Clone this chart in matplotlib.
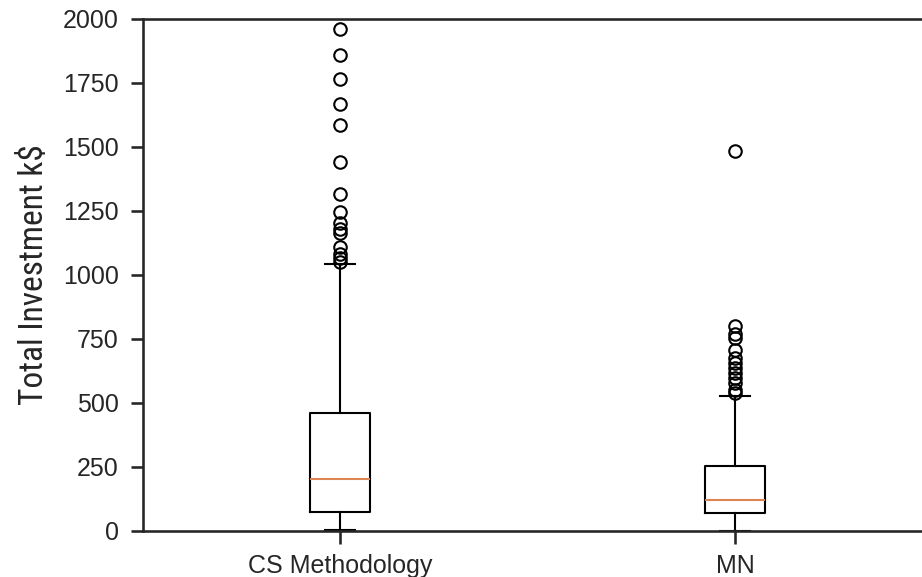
import matplotlib
matplotlib.use("Agg")
import matplotlib.pyplot as plt

categories = ["CS Methodology", "MN"]
q1 = [75, 69]
medians = [203, 121]
q3 = [460, 254]
whisker_low = [4, 1]
whisker_high = [1042, 527]
outliers_cs = [1962, 1858, 1766, 1668, 1585, 1440, 1316, 1245, 1202, 1180, 1163,
               1111, 1082, 1065, 1052]
outliers_mn = [1485, 800, 770, 752, 707, 675, 655, 636, 618, 596, 577, 551, 540]
outliers = [outliers_cs, outliers_mn]
yticks = [0, 250, 500, 750, 1000, 1250, 1500, 1750, 2000]
ylabel = "Total Investment k$"

edge = "#262626"
plt.rcParams["font.family"] = ["Liberation Sans", "DejaVu Sans"]

fig = plt.figure(figsize=(922 / 150, 577 / 150), dpi=150)
ax = fig.add_axes([142.5 / 922, 46 / 577, 790 / 922, 512 / 577])

stats = []
for i, name in enumerate(categories):
    stats.append(dict(label=name, q1=q1[i], med=medians[i], q3=q3[i],
                      whislo=whisker_low[i], whishi=whisker_high[i],
                      fliers=outliers[i]))

ax.bxp(stats, positions=[1, 2], widths=0.15,
       boxprops=dict(color="black", linewidth=1.0),
       whiskerprops=dict(color="black", linewidth=1.0),
       capprops=dict(color="black", linewidth=1.0),
       medianprops=dict(color="#dd8452", linewidth=1.0),
       flierprops=dict(marker="o", markerfacecolor="none",
                       markeredgecolor="black", markersize=6,
                       markeredgewidth=1.0, linestyle="none"))

ax.set_xlim(0.5, 2.5)
ax.set_ylim(0, 2000)
ax.set_yticks(yticks)
ax.set_yticklabels([str(t) for t in yticks])

for s in ax.spines.values():
    s.set_color(edge)
    s.set_linewidth(1.25)

ax.tick_params(axis="both", colors=edge, length=6, width=1.25,
               labelsize=12, pad=5.5)
ax.tick_params(axis="x", pad=5)

ax.set_ylabel(ylabel, fontsize=16, color=edge, labelpad=6,
              fontstretch="condensed",
              family=["Roboto Condensed", "Liberation Sans Narrow",
                      "Open Sans Condensed", "Roboto", "DejaVu Sans"])

fig.savefig("out.png", dpi=150)
